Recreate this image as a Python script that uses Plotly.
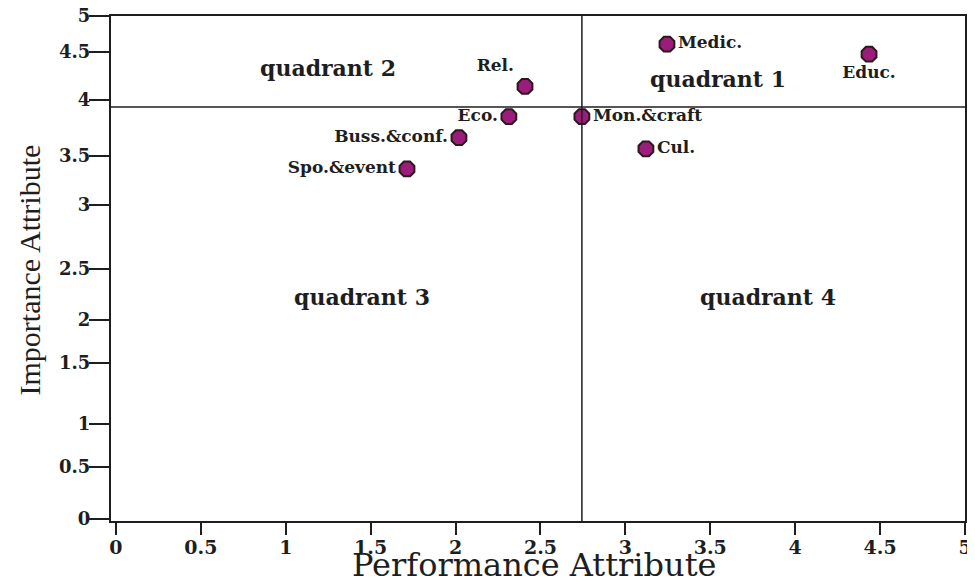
import plotly.graph_objects as go

# Data
names = ["Medic.", "Educ.", "Rel.", "Eco.", "Mon.&craft", "Buss.&conf.", "Spo.&event", "Cul."]
performance = [3.245, 4.435, 2.409, 2.314, 2.744, 2.020, 1.714, 3.121]
importance = [4.72, 4.62, 4.30, 4.00, 4.00, 3.79, 3.48, 3.68]
label_pos = ["middle right", "bottom center", "top left", "middle left",
             "middle right", "middle left", "middle left", "middle right"]

perf_mean = 2.744
imp_mean = 4.095

x_ticks = [0, 0.5, 1, 1.5, 2, 2.5, 3, 3.5, 4, 4.5, 5]
x_tick_labels = ["0", "0.5", "1", "1.5", "2", "2.5", "3", "3.5", "4", "4.5", "5"]
# y tick labels, placed where the original figure shows them
y_tick_at = [0, 0.517, 0.944, 1.551, 1.978, 2.485, 3.121, 3.608, 4.165, 4.642, 5.0]
y_tick_labels = ["0", "0.5", "1", "1.5", "2", "2.5", "3", "3.5", "4", "4.5", "5"]

quad_text = ["quadrant 1", "quadrant 2", "quadrant 3", "quadrant 4"]
quad_x = [3.545, 1.25, 1.45, 3.84]
quad_y = [4.37, 4.48, 2.21, 2.21]

SERIF = "Liberation Serif"
WIDE = "DejaVu Serif"
INK = "#1e1e1e"

fig = go.Figure()
fig.add_trace(go.Scatter(
    x=performance, y=importance, mode="markers+text",
    text=names, textposition=label_pos,
    textfont=dict(family=WIDE, size=17, color=INK, weight="bold"),
    marker=dict(symbol="octagon", size=16, color="#9C1C7C",
                line=dict(color="#2a1a1a", width=2)),
    cliponaxis=False, showlegend=False,
))

fig.add_shape(type="line", x0=perf_mean, x1=perf_mean, y0=0, y1=1, yref="paper",
              line=dict(color=INK, width=1.5))
fig.add_shape(type="line", y0=imp_mean, y1=imp_mean, x0=0, x1=1, xref="paper",
              line=dict(color=INK, width=1.5))

for t, qx, qy in zip(quad_text, quad_x, quad_y):
    fig.add_annotation(x=qx, y=qy, text=t, showarrow=False,
                       font=dict(family=WIDE, size=22, color=INK, weight="bold"))

fig.add_annotation(x=0.495, y=-0.087, xref="paper", yref="paper", text="Performance Attribute",
                   xanchor="center", yanchor="middle",
                   showarrow=False, font=dict(family=WIDE, size=32, color=INK))
fig.add_annotation(x=-0.0955, y=0.497, xref="paper", yref="paper", text="Importance Attribute",
                   xanchor="center", yanchor="middle",
                   textangle=-90, showarrow=False, font=dict(family=SERIF, size=30, color=INK))

fig.update_xaxes(range=[-0.029, 5.0], tickvals=x_ticks, ticktext=x_tick_labels,
                 ticks="outside", ticklen=12, tickwidth=2, tickcolor=INK,
                 showline=True, linecolor=INK, linewidth=2, mirror=True,
                 showgrid=False, zeroline=False, automargin=False,
                 ticklabelstandoff=-4, ticklabeloverflow="allow",
                 tickfont=dict(family=WIDE, size=19, color=INK, weight="bold"))
fig.update_yaxes(range=[-0.02, 5.0], tickvals=y_tick_at, ticktext=y_tick_labels,
                 ticks="outside", ticklen=20, tickwidth=1.5, tickcolor=INK,
                 showline=True, linecolor=INK, linewidth=2, mirror=True,
                 showgrid=False, zeroline=False, automargin=False,
                 ticklabelstandoff=-5, ticklabeloverflow="allow",
                 tickfont=dict(family=WIDE, size=18, color=INK, weight="bold"))

# page body has an 8px default margin, so the figure is 8px smaller
fig.update_layout(width=967, height=570, margin=dict(l=103, r=10, t=8, b=57, autoexpand=False),
                  plot_bgcolor="white", paper_bgcolor="white")

fig.write_html("out.html")
